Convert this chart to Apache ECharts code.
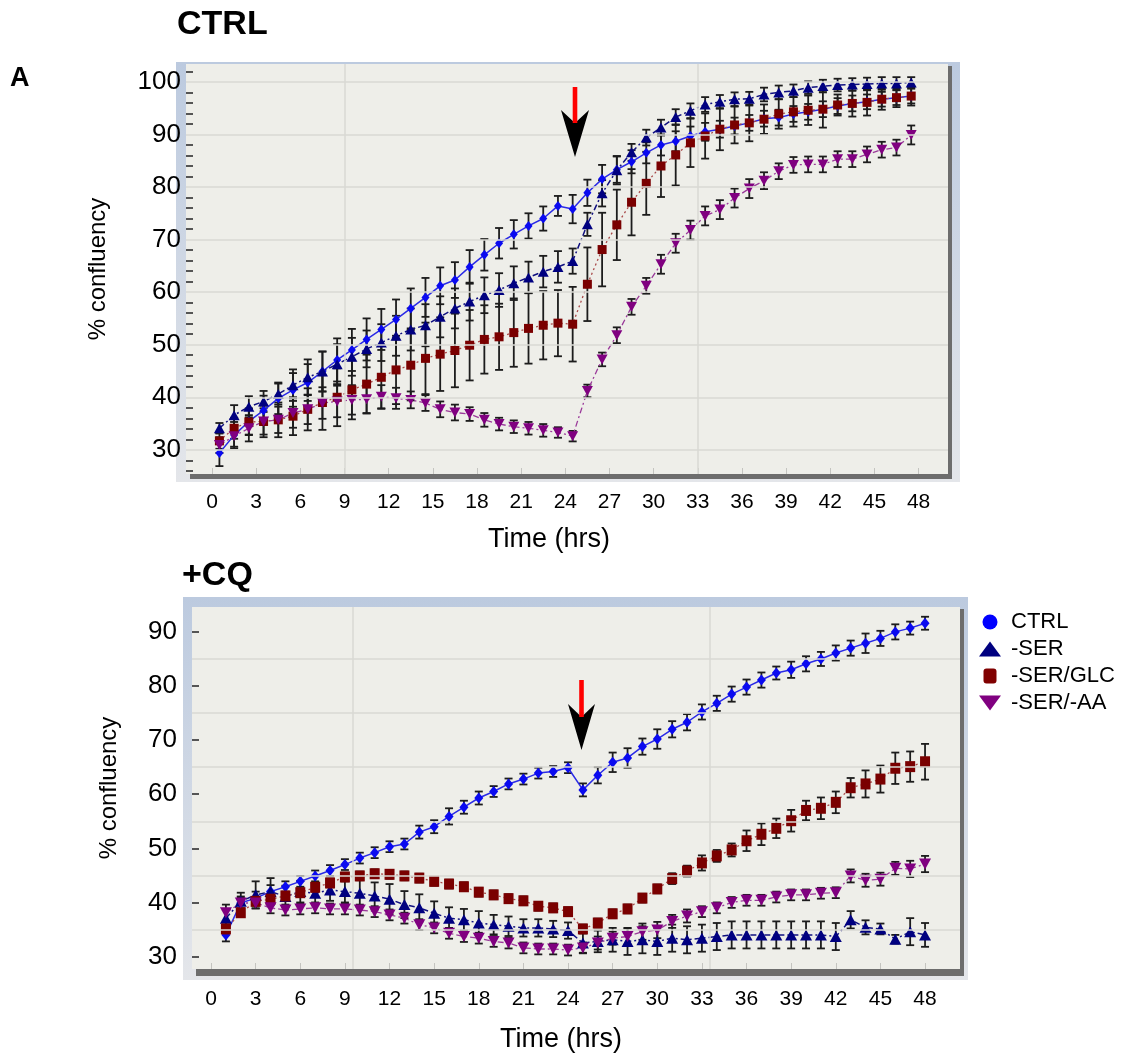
<!DOCTYPE html>
<html>
<head>
<meta charset="utf-8">
<script src="https://cdn.jsdelivr.net/npm/echarts@6/dist/echarts.min.js"></script>
<style>
  html, body { margin: 0; padding: 0; background: #fff; }
  #chart { width: 1131px; height: 1059px; }
</style>
</head>
<body>
<div id="chart"></div>
<script>
// time points (hrs)
const hoursCtrl = [0.5,1.5,2.5,3.5,4.5,5.5,6.5,7.5,8.5,9.5,10.5,11.5,12.5,13.5,14.5,15.5,16.5,17.5,18.5,19.5,20.5,21.5,22.5,23.5,24.5,25.5,26.5,27.5,28.5,29.5,30.5,31.5,32.5,33.5,34.5,35.5,36.5,37.5,38.5,39.5,40.5,41.5,42.5,43.5,44.5,45.5,46.5,47.5]
const hoursCq = [1,2,3,4,5,6,7,8,9,10,11,12,13,14,15,16,17,18,19,20,21,22,23,24,25,26,27,28,29,30,31,32,33,34,35,36,37,38,39,40,41,42,43,44,45,46,47,48]

// CTRL panel (% confluency)
const ctrlTop = [29.4,32.8,35.4,37.5,39.8,41.4,42.8,44.9,47.1,49.0,51.0,52.9,54.8,56.9,59.0,61.2,62.3,64.8,67.1,69.3,71.0,72.6,74.0,76.4,75.8,78.9,81.5,83.3,84.8,86.5,88.0,88.7,89.7,90.5,91.0,91.6,92.2,93.0,93.2,93.9,94.3,94.8,95.4,95.9,96.2,96.7,97.0,97.3]
const serTop = [34.1,36.6,38.2,39.2,40.6,42.3,43.8,44.9,46.3,47.7,49.2,50.4,51.7,52.9,53.7,55.3,56.9,58.2,59.4,60.4,61.7,62.8,63.9,64.8,65.9,72.9,78.8,83.2,86.6,89.4,91.3,93.3,94.5,95.7,96.2,96.7,96.8,97.6,98.0,98.3,98.9,99.2,99.4,99.5,99.6,99.7,99.7,99.9]
const glcTop = [31.7,34.1,35.3,35.4,35.7,36.4,37.7,39.0,40.0,41.4,42.5,43.8,45.2,46.1,47.4,48.2,48.9,49.9,51.0,51.5,52.3,53.1,53.7,54.1,53.9,61.5,68.1,72.8,77.1,80.7,84.0,86.1,88.4,89.7,91.0,91.8,92.2,92.9,93.9,94.3,94.6,94.8,95.6,95.9,96.1,96.7,97.0,97.3]
const aaTop = [30.9,32.6,34.1,35.4,35.7,37.0,37.7,38.9,39.2,39.5,39.6,40.1,39.8,39.5,38.9,37.7,37.1,36.8,35.7,34.9,34.4,34.1,33.7,33.3,32.6,41.2,47.2,51.8,57.2,61.2,65.3,69.3,71.8,74.5,75.7,77.9,79.7,81.2,83.0,84.2,84.3,84.3,85.3,85.3,86.2,87.1,87.5,89.9]
// error (+/-)
const ctrlTopErr = [2.5,2.5,2.5,2.8,3,3.2,3.5,3.8,4.1,4,4,3.9,3.8,3.8,3.7,3.5,3.4,3.2,3,2.9,2.7,2.4,2.3,1.9,2.7,2.5,2.7,2.5,2.2,2,2,1.9,1.8,1.7,1.6,1.6,1.5,1.5,1.5,1.5,1.5,1.5,1.5,1.5,1.4,1.4,1.4,1.4]
const serTopErr = [1,1.9,2,2,2,3,3.4,3.8,3.8,3.6,3.5,3.5,3.8,4,4,3.9,3.8,3.6,3.4,3.2,3.2,3,3,3,2.4,2.2,2.5,2.7,1.6,1.5,1.5,1.5,1.4,1.4,1.3,1.3,1.3,1.3,1.3,1.2,1.2,1.2,1.2,1.2,1.2,1.2,1.2,1]
const glcTopErr = [1.5,2,2.5,3,3.3,3.6,4,5.2,5.5,5.6,5.6,6,6.5,6.7,6.8,7,7,6.7,6.5,6.3,6.5,6.7,6.5,6.3,7.1,7,7,6.7,6.3,6,5.9,5.8,4.6,4.3,4,3.5,3.5,2.8,2.8,2.8,2.8,3.5,2,2.5,2.5,2,1.8,1.8]
const aaTopErr = [1.5,2,2.5,2.5,2.5,2.8,2.8,3,3,2.8,2.6,2.2,2,1.6,1.5,1.5,1.5,1.3,1.3,1.2,1.2,1.2,1.2,1,1,1.2,1.3,1.5,1.5,1.5,1.8,1.8,1.8,1.8,1.8,1.8,1.8,1.6,1.5,1.5,1.5,1.5,1.5,1.5,1.5,1.5,1.5,1.8]

// +CQ panel
const ctrlCq = [34.0,39.9,40.8,42.0,42.9,43.9,44.9,45.9,47.0,48.2,49.2,50.3,50.8,53.0,54.0,55.9,57.6,59.3,60.5,61.9,62.8,63.9,64.2,64.9,60.8,63.5,65.9,66.7,68.8,70.2,72.0,73.3,75.2,76.8,78.5,79.8,81.1,82.4,83.0,84.1,85.0,86.1,87.0,87.9,88.8,90.0,90.7,91.6]
const serCq = [37.1,40.2,41.4,42.0,41.1,42.0,41.7,42.3,42.0,41.7,41.2,40.6,39.6,39.0,38.0,37.1,36.8,36.2,35.9,35.6,35.3,35.3,35.1,34.8,32.5,32.8,33.1,32.8,33.1,32.8,33.4,33.1,33.4,33.7,34.0,34.0,34.0,34.0,34.0,34.0,34.0,33.7,36.8,35.4,35.1,33.2,34.6,34.0]
const glcCq = [35.1,38.1,40.2,40.6,41.2,41.8,42.8,43.6,44.7,44.9,45.3,45.2,44.9,44.5,43.9,43.4,42.9,41.9,41.4,40.7,40.3,39.3,39.0,38.3,35.1,36.2,37.9,38.8,40.8,42.5,44.4,45.8,47.3,48.6,49.7,51.4,52.6,53.7,55.1,57.0,57.4,58.5,61.2,61.9,62.8,64.8,65.1,66.0]
const aaCq = [38.1,39.9,39.9,39.0,38.6,38.8,39.0,38.8,38.8,38.6,38.3,37.7,37.1,35.9,35.3,34.3,33.7,33.4,32.8,32.5,31.6,31.4,31.4,31.2,31.6,32.5,33.4,33.7,34.6,34.9,36.5,37.5,38.3,39.0,40.0,40.4,40.4,41.0,41.4,41.4,41.7,41.8,44.9,44.1,44.3,46.3,46.2,47.1]
const ctrlCqErr = [1.2,1.2,1.2,1.2,1,1,1,1,1,1,1,1,1,1.2,1.2,1.5,1.2,1.2,1,1,1,1,1,1,1.2,1.5,1.8,1.8,1.5,1.8,1.5,1.5,1.4,1.4,1.4,1.4,1.4,1.2,1.5,1.4,1.3,1.4,1.4,1.8,1.4,1.4,1.2,1.2]
const serCqErr = [1.5,1.6,2.5,2.5,2,2,2,2,2,2.5,2.5,2.8,2.5,2.5,2.2,2,2,2.2,1.8,1.8,1.6,1.6,1.5,1.5,1.8,2,2.2,2.5,2.5,2.5,2.5,2.5,2.5,2.5,2.5,2.5,2.5,2.5,2.5,2.5,2.5,2.5,1.6,1.3,1,0.8,2.5,2.2]
const glcCqErr = [0.8,0.8,0.8,0.8,0.8,0.8,0.8,0.8,0.8,0.8,0.8,0.8,0.8,0.8,0.8,0.8,0.8,0.8,0.8,0.8,0.8,0.8,0.8,0.8,0.8,0.8,0.8,0.8,0.8,0.8,1,1,1.4,1.1,1.2,1.9,2,1.8,2,1.8,2,2,1.8,2.5,2.5,2.9,2.8,3.3]
const aaCqErr = [1.5,1,1,1,1,1,1,1,1,1,1,1,1,1,1,1,1,1,1,1,1,1,1,1,1,1.2,1.2,1.5,1.5,1.5,1.2,1.2,1,1,1,1,1,1,1,1,1,1,1.2,1.2,1.2,1.2,1.5,1.5]

// axes
const hourTicks = [0,3,6,9,12,15,18,21,24,27,30,33,36,39,42,45,48]
const yLabelsCtrl = [30,40,50,60,70,80,90,100]
const yMinorCtrl = [26,28,32,34,36,38,42,44,46,48,52,54,56,58,62,64,66,68,72,74,76,78,82,84,86,88,92,94,96,98,102]
const yLabelsCq = [30,40,50,60,70,80,90]
const gridYCq = [35,45,55,65,75,85]
const gridXCtrl = [9,33]
const gridXCq = [9.5,33.5]

const FONT = 'Liberation Sans, Arial, sans-serif'

// marker / line look per series, for each panel
const styles = {
  'CTRL': { color: '#0a0af0', line: { color: '#2a2ae6', width: 1.5, type: 'solid' }, symbol: 'diamond', size: [8, 10], sizeCq: [9, 11], rotate: 0 },
  '-SER': { color: '#000080', line: { color: '#101080', width: 1.5, type: [6, 3, 2, 3] }, symbol: 'triangle', size: [11, 10], sizeCq: [12, 11], rotate: 0 },
  '-SER/GLC': { color: '#7a0000', line: { color: '#a84848', width: 1.3, type: [2, 3] }, symbol: 'rect', size: [9, 9], sizeCq: [10, 11], rotate: 0 },
  '-SER/-AA': { color: '#800080', line: { color: '#9a3a9a', width: 1.3, type: [6, 3, 2, 3] }, symbol: 'triangle', size: [11, 10], sizeCq: [12, 11], rotate: 180 }
}

const renderErr = (params, api) => {
  const x = api.value(0)
  const lo = api.coord([x, api.value(1)])
  const hi = api.coord([x, api.value(2)])
  const w = 4
  const st = { stroke: '#1c1c1c', lineWidth: 1.8 }
  return {
    type: 'group',
    children: [
      { type: 'line', shape: { x1: lo[0], y1: lo[1], x2: hi[0], y2: hi[1] }, style: st },
      { type: 'line', shape: { x1: lo[0] - w, y1: lo[1], x2: lo[0] + w, y2: lo[1] }, style: st },
      { type: 'line', shape: { x1: hi[0] - w, y1: hi[1], x2: hi[0] + w, y2: hi[1] }, style: st }
    ]
  }
}

const gridLineStyle = { color: '#d9d9d3', width: 1.5, type: 'solid' }

const buildPanel = (idx, xs, sets, gridMarks) => {
  const out = []
  sets.forEach(([name, ys, errs], k) => {
    const s = styles[name]
    const errSeries = {
      type: 'custom',
      name: name,
      xAxisIndex: idx,
      yAxisIndex: idx,
      renderItem: renderErr,
      encode: { x: 0, y: [1, 2] },
      z: 1,
      silent: true,
      data: xs.map((x, i) => [x, ys[i] - errs[i], ys[i] + errs[i]])
    }
    if (k === 0) {
      // background grid lines of the panel
      errSeries.markLine = {
        silent: true,
        symbol: 'none',
        animation: false,
        label: { show: false },
        lineStyle: gridLineStyle,
        data: gridMarks
      }
    }
    out.push(errSeries)
    out.push({
      type: 'line',
      name: name,
      xAxisIndex: idx,
      yAxisIndex: idx,
      z: 3,
      symbol: s.symbol,
      symbolSize: idx === 0 ? s.size : s.sizeCq,
      symbolRotate: s.rotate,
      itemStyle: { color: s.color },
      lineStyle: s.line,
      data: xs.map((x, i) => [x, ys[i]])
    })
  })
  return out
}

const seriesCtrl = buildPanel(0, hoursCtrl, [
  ['CTRL', ctrlTop, ctrlTopErr],
  ['-SER', serTop, serTopErr],
  ['-SER/GLC', glcTop, glcTopErr],
  ['-SER/-AA', aaTop, aaTopErr]
], [...yLabelsCtrl.map(v => ({ yAxis: v })), ...gridXCtrl.map(v => ({ xAxis: v }))])

const seriesCq = buildPanel(1, hoursCq, [
  ['CTRL', ctrlCq, ctrlCqErr],
  ['-SER', serCq, serCqErr],
  ['-SER/GLC', glcCq, glcCqErr],
  ['-SER/-AA', aaCq, aaCqErr]
], [...gridYCq.map(v => ({ yAxis: v })), ...gridXCq.map(v => ({ xAxis: v }))])

const xLabelStyle = { color: '#000', fontSize: 21, fontFamily: FONT }
const yLabelStyle = { color: '#000', fontSize: 26, fontFamily: FONT }

const chart = echarts.init(document.getElementById('chart'))

const frameFill = {
  type: 'linear', x: 0, y: 0, x2: 0, y2: 1,
  colorStops: [{ offset: 0, color: '#bccadf' }, { offset: 1, color: '#e4e6ea' }]
}

chart.setOption({
  animation: false,
  textStyle: { fontFamily: FONT },
  title: [
    { text: 'CTRL', left: 177, top: 8, padding: 0, textStyle: { fontSize: 34, fontWeight: 'bold', color: '#000', fontFamily: FONT } },
    { text: '+CQ', left: 182, top: 559, padding: 0, textStyle: { fontSize: 34, fontWeight: 'bold', color: '#000', fontFamily: FONT } },
    { text: 'A', left: 10, top: 65, padding: 0, textStyle: { fontSize: 27, fontWeight: 'bold', color: '#000', fontFamily: FONT } }
  ],
  legend: {
    orient: 'vertical',
    left: 979,
    top: 611,
    padding: 0,
    itemWidth: 22,
    itemHeight: 15,
    itemGap: 5,
    textStyle: { fontSize: 22, color: '#000', fontFamily: FONT, padding: [0, 0, 0, 5] },
    data: [
      { name: 'CTRL', icon: 'circle', itemStyle: { color: '#0000ff', borderWidth: 0 } },
      { name: '-SER', icon: 'triangle', itemStyle: { color: '#000080', borderWidth: 0 } },
      { name: '-SER/GLC', icon: 'path://M3,0H10A3,3 0 0 1 13,3V12A3,3 0 0 1 10,15H3A3,3 0 0 1 0,12V3A3,3 0 0 1 3,0Z', itemStyle: { color: '#800000', borderWidth: 0 } },
      { name: '-SER/-AA', icon: 'path://M0,0L22,0L11,15Z', itemStyle: { color: '#800080', borderWidth: 0 } }
    ]
  },
  grid: [
    { left: 186, top: 64, width: 762, height: 410 },
    { left: 192, top: 607, width: 768, height: 362 }
  ],
  xAxis: [
    {
      type: 'value', gridIndex: 0, min: -1.77, max: 50,
      axisLine: { show: false, onZero: false },
      axisTick: { show: true, inside: true, length: 6, customValues: hourTicks, lineStyle: { color: '#c4c4c0', width: 1 } },
      axisLabel: { customValues: hourTicks, margin: 18, ...xLabelStyle },
      splitLine: { show: false },
      name: 'Time (hrs)', nameLocation: 'middle', nameGap: 52,
      nameTextStyle: { color: '#000', fontSize: 27, fontFamily: FONT, padding: [0, 36, 0, 0] }
    },
    {
      type: 'value', gridIndex: 1, min: -1.28, max: 50.35,
      axisLine: { show: false, onZero: false },
      axisTick: { show: true, inside: true, length: 6, customValues: hourTicks, lineStyle: { color: '#c4c4c0', width: 1 } },
      axisLabel: { customValues: hourTicks, margin: 20, ...xLabelStyle },
      splitLine: { show: false },
      name: 'Time (hrs)', nameLocation: 'middle', nameGap: 57,
      nameTextStyle: { color: '#000', fontSize: 27, fontFamily: FONT, padding: [0, 30, 0, 0] }
    }
  ],
  yAxis: [
    {
      type: 'value', gridIndex: 0, min: 25.4, max: 103.4,
      axisLine: { show: false, onZero: false },
      axisTick: { show: true, inside: true, length: 7, customValues: yMinorCtrl, lineStyle: { color: '#555', width: 2 } },
      axisLabel: { customValues: yLabelsCtrl, margin: 5, ...yLabelStyle },
      splitLine: { show: false },
      name: '% confluency', nameLocation: 'middle', nameGap: 76,
      nameTextStyle: { color: '#000', fontSize: 24, fontFamily: FONT }
    },
    {
      type: 'value', gridIndex: 1, min: 27.7, max: 94.6,
      axisLine: { show: false, onZero: false },
      axisTick: { show: true, inside: true, length: 7, customValues: yLabelsCq, lineStyle: { color: '#555', width: 2 } },
      axisLabel: { customValues: yLabelsCq, margin: 15, ...yLabelStyle },
      splitLine: { show: false },
      name: '% confluency', nameLocation: 'middle', nameGap: 71,
      nameTextStyle: { color: '#000', fontSize: 24, fontFamily: FONT }
    }
  ],
  graphic: [
    // CTRL frame
    { type: 'rect', z: -10, shape: { x: 176, y: 62, width: 784, height: 420 }, style: { fill: frameFill } },
    { type: 'rect', z: -9, shape: { x: 186, y: 64, width: 762, height: 410 }, style: { fill: '#eeeee9' } },
    { type: 'rect', z: 50, shape: { x: 190, y: 474, width: 762, height: 5 }, style: { fill: '#6d6d6d' } },
    { type: 'rect', z: 50, shape: { x: 948, y: 66, width: 4, height: 413 }, style: { fill: '#6d6d6d' } },
    // +CQ frame
    { type: 'rect', z: -10, shape: { x: 183, y: 597, width: 785, height: 383 }, style: { fill: frameFill } },
    { type: 'rect', z: -9, shape: { x: 192, y: 607, width: 768, height: 362 }, style: { fill: '#eeeee9' } },
    { type: 'rect', z: 50, shape: { x: 196, y: 969, width: 768, height: 7 }, style: { fill: '#6d6d6d' } },
    { type: 'rect', z: 50, shape: { x: 960, y: 609, width: 4, height: 367 }, style: { fill: '#6d6d6d' } },
    // arrows
    { type: 'polygon', z: 60, shape: { points: [[561, 110], [575, 123], [589, 110], [575, 157]] }, style: { fill: '#000' } },
    { type: 'rect', z: 61, shape: { x: 572.7, y: 87, width: 4.6, height: 36 }, style: { fill: '#ff0000' } },
    { type: 'polygon', z: 60, shape: { points: [[568, 704], [581.5, 717], [595, 704], [581.5, 750]] }, style: { fill: '#000' } },
    { type: 'rect', z: 61, shape: { x: 579.2, y: 680, width: 4.6, height: 37 }, style: { fill: '#ff0000' } }
  ],
  series: [...seriesCtrl, ...seriesCq]
})

window.addEventListener('resize', () => chart.resize())
</script>
</body>
</html>
